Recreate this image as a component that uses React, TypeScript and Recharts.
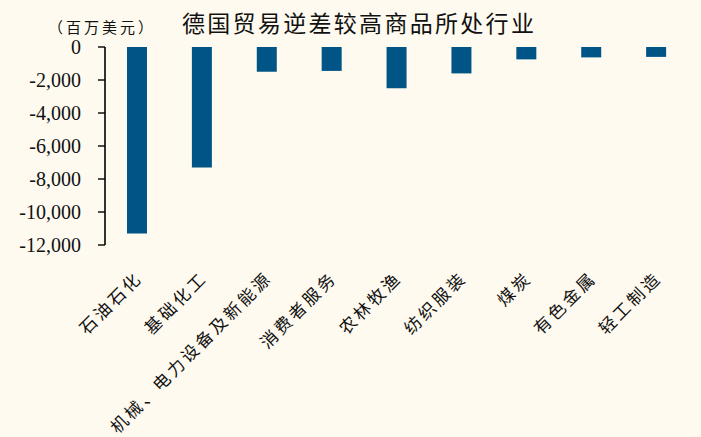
import React from 'react';
import { BarChart, Bar, XAxis, YAxis } from 'recharts';

const industries = ['石油石化', '基础化工', '机械、电力设备及新能源', '消费者服务', '农林牧渔', '纺织服装', '煤炭', '有色金属', '轻工制造'];
const deficits = [-11300, -7300, -1500, -1450, -2500, -1600, -750, -630, -600];
const yTicks = [0, -2000, -4000, -6000, -8000, -10000, -12000];
const boundaryTicks = [0, 1, 2, 3, 4, 5, 6, 7, 8, 9];

const title = '德国贸易逆差较高商品所处行业';
const unit = '（百万美元）';

const BG = '#fefaef';
const BAR = '#005486';
const CJK = '"Noto Sans CJK SC", sans-serif';
const SERIF = '"Liberation Serif", "Times New Roman", serif';

const data = industries.map((name, i) => ({ name, value: deficits[i] }));

function IndustryTick(props: any) {
  const { x, y, payload } = props;
  const ax = x + 6;
  const ay = y + 34;
  return (
    <text
      x={ax}
      y={ay}
      transform={`rotate(-45, ${ax}, ${ay})`}
      textAnchor="end"
      fontSize={17}
      letterSpacing={3}
      fontFamily={CJK}
      fill="#111"
    >
      {payload.value}
    </text>
  );
}

export default function App() {
  return (
    <div style={{ position: 'absolute', left: 0, top: 0, width: 701, height: 437, background: BG, overflow: 'hidden' }}>
      <div style={{ position: 'absolute', left: 48, top: 19, fontFamily: CJK, fontSize: 15, letterSpacing: 3, lineHeight: '16px', color: '#111' }}>
        {unit}
      </div>
      <div style={{ position: 'absolute', left: 182, top: 8, fontFamily: CJK, fontSize: 23, letterSpacing: 2.3, lineHeight: '28px', color: '#111' }}>
        {title}
      </div>
      <BarChart width={701} height={437} data={data} margin={{ top: 47, right: 12, bottom: 0, left: 0 }}>
        <XAxis
          xAxisId="cat"
          dataKey="name"
          type="category"
          height={192}
          axisLine={false}
          tickLine={false}
          tickSize={0}
          tickMargin={0}
          interval={0}
          tick={<IndustryTick />}
        />
        <XAxis
          xAxisId="edge"
          type="number"
          orientation="top"
          domain={[0, 9]}
          ticks={boundaryTicks}
          allowDataOverflow
          mirror
          height={0}
          tickSize={6}
          tickFormatter={() => ''}
          axisLine={{ stroke: '#000', strokeWidth: 1.6 }}
          tickLine={{ stroke: '#000', strokeWidth: 1.4 }}
        />
        <YAxis
          domain={[-12000, 0]}
          ticks={yTicks}
          width={105}
          tickSize={7}
          tickMargin={17}
          interval={0}
          tickFormatter={(v: number) => v.toLocaleString('en-US')}
          axisLine={{ stroke: '#000', strokeWidth: 1.6 }}
          tickLine={{ stroke: '#000', strokeWidth: 1.4 }}
          tick={{ fill: '#111', fontSize: 20, fontFamily: SERIF }}
        />
        <Bar xAxisId="cat" dataKey="value" fill={BAR} barSize={20} isAnimationActive={false} />
      </BarChart>
    </div>
  );
}
